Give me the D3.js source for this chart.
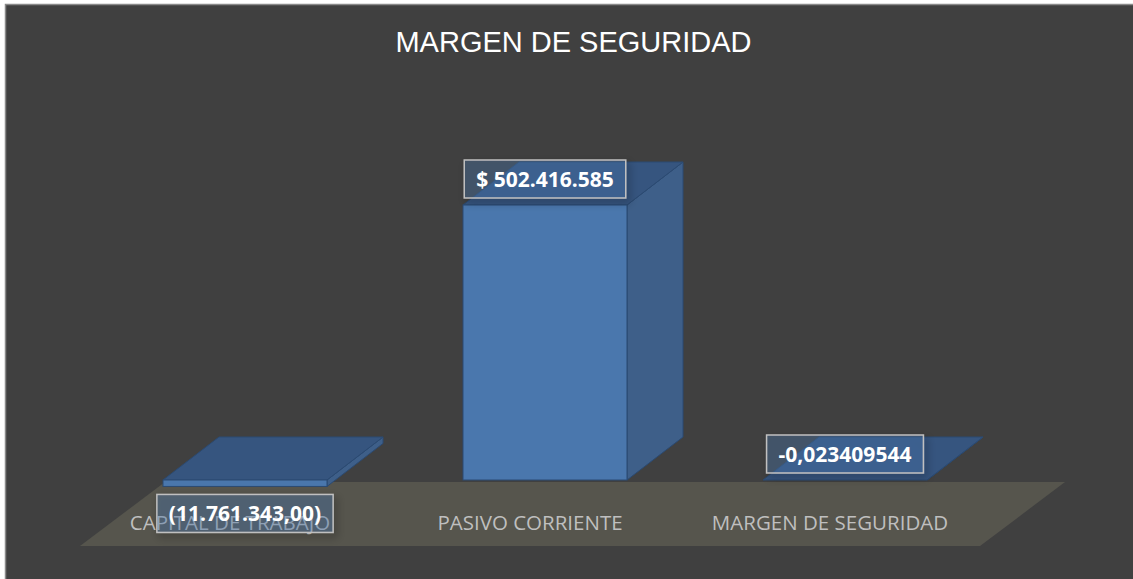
<!DOCTYPE html>
<html>
<head>
<meta charset="utf-8">
<title>Margen de seguridad</title>
<script src="https://d3js.org/d3.v7.min.js"></script>
<style>
  body { margin: 0; background: #fff; }
  svg { display: block; }
</style>
</head>
<body>
<svg id="chart"></svg>
<script>
// chart values
const categories = ["CAPITAL DE TRABAJO", "PASIVO CORRIENTE", "MARGEN DE SEGURIDAD"];
const values = [-11761343.00, 502416585, -0.023409544];
const valueLabels = ["(11.761.343,00)", "$ 502.416.585", "-0,023409544"];
const chartTitle = "MARGEN DE SEGURIDAD";

const width = 1133, height = 579;
const depthX = 56, depthY = -43;   // 3d offset of the bars
const floorX = -85, floorY = 64;   // floor slant

const svg = d3.select("#chart").attr("width", width).attr("height", height);

const defs = svg.append("defs");
const shadow = defs.append("filter").attr("id", "shadow")
    .attr("x", "-20%").attr("y", "-30%").attr("width", "150%").attr("height", "180%");
shadow.append("feDropShadow")
    .attr("dx", 3).attr("dy", 4).attr("stdDeviation", 4)
    .attr("flood-color", "#000").attr("flood-opacity", 0.45);

// chart area
svg.append("rect")
    .attr("x", 5.5).attr("y", 4.5)
    .attr("width", width).attr("height", height)
    .attr("fill", "#404040")
    .attr("stroke", "#8a8a8a").attr("stroke-width", 1.5);

svg.append("text")
    .attr("x", 573.5).attr("y", 52)
    .attr("text-anchor", "middle")
    .attr("font-family", "'Liberation Sans', Arial, sans-serif")
    .attr("font-size", 29)
    .attr("fill", "#fff")
    .text(chartTitle);

const x = d3.scaleBand()
    .domain(categories)
    .range([13, 1077])
    .paddingInner(0.4533)
    .paddingOuter(0.5);

const y = d3.scaleLinear()
    .domain([0, d3.max(values)])
    .range([480, 205]);

const y0 = y(0);

// floor
const fl = x(categories[0]) + 2, fr = fl + x.step() * categories.length;
svg.append("path")
    .attr("d", d3.line()([
      [fl, y0 + 2], [fr, y0 + 2],
      [fr + floorX, y0 + 2 + floorY], [fl + floorX, y0 + 2 + floorY]
    ]) + "Z")
    .attr("fill", "#56554d");

// category labels
svg.append("g").selectAll("text")
  .data(categories)
  .join("text")
    .attr("x", d => x(d) + x.bandwidth() / 2 - 15)
    .attr("y", 530)
    .attr("text-anchor", "middle")
    .attr("font-family", "'Open Sans', sans-serif")
    .attr("font-size", 20.5)
    .attr("fill", "#bfbfbf")
    .text(d => d);

// bars
const bars = svg.append("g").selectAll("g")
  .data(categories.map((c, i) => ({ c, v: values[i], label: valueLabels[i] })))
  .join("g");

bars.each(function (d) {
  const g = d3.select(this);
  const x0 = x(d.c), w = x.bandwidth();
  const top = y(Math.max(d.v, 0)), bot = y(Math.min(d.v, 0));
  const line = d3.line();
  // side face
  g.append("path")
    .attr("d", line([[x0 + w, top], [x0 + w + depthX, top + depthY],
                     [x0 + w + depthX, bot + depthY], [x0 + w, bot]]) + "Z")
    .attr("fill", "#3e5f89").attr("stroke", "#2b4a72").attr("stroke-width", 1);
  // top face
  g.append("path")
    .attr("d", line([[x0, top], [x0 + w, top],
                     [x0 + w + depthX, top + depthY], [x0 + depthX, top + depthY]]) + "Z")
    .attr("fill", "#36557f").attr("stroke", "#2b4a72").attr("stroke-width", 1);
  // front face
  if (bot - top > 0.5) {
    g.append("rect")
      .attr("x", x0).attr("y", top)
      .attr("width", w).attr("height", bot - top)
      .attr("fill", "#4a77ad").attr("stroke", "#2b4a72").attr("stroke-width", 1);
  }
});

// value labels
bars.each(function (d) {
  const g = d3.select(this).append("g");
  const cx = x(d.c) + x.bandwidth() / 2;
  const cy = d.v < -1 ? y(d.v) + 27 : y(Math.max(d.v, 0)) - 26;
  const box = g.append("rect")
    .attr("fill", "rgba(79,129,189,0.3)")
    .attr("stroke", "#c0c0c0").attr("stroke-width", 1.5)
    .attr("filter", "url(#shadow)");
  const t = g.append("text")
    .attr("x", cx).attr("y", cy + 8)
    .attr("text-anchor", "middle")
    .attr("font-family", "'Open Sans', sans-serif")
    .attr("font-weight", "bold")
    .attr("font-size", 21)
    .attr("fill", "#fff")
    .text(d.label);
  const tw = t.node().getComputedTextLength();
  box.attr("x", cx - tw / 2 - 12).attr("y", cy - 19)
     .attr("width", tw + 24).attr("height", 38);
});
</script>
</body>
</html>
